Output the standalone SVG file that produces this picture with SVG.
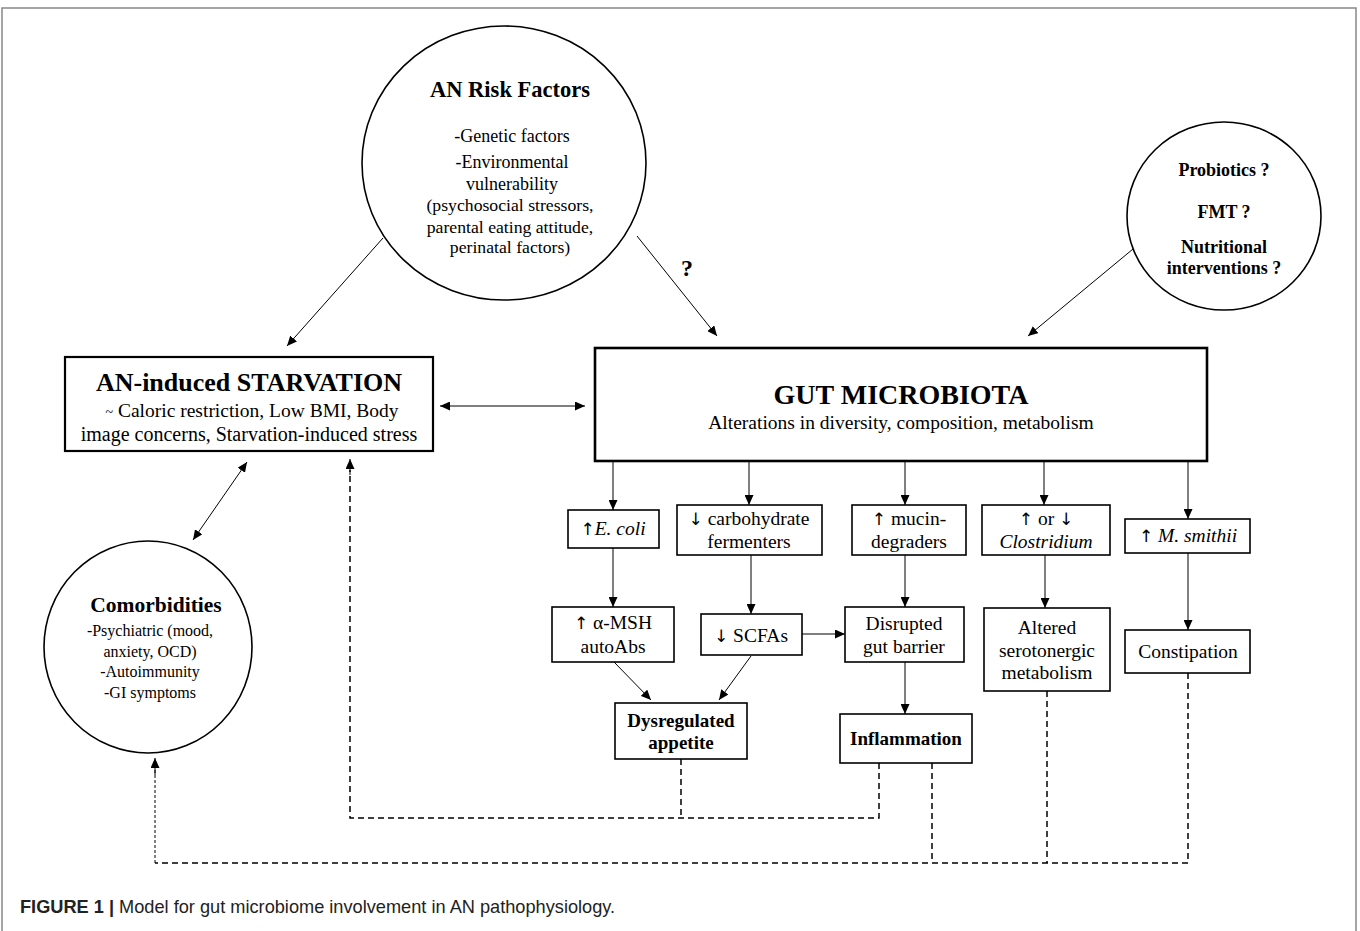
<svg xmlns="http://www.w3.org/2000/svg" width="1360" height="931" viewBox="0 0 1360 931">
<defs>
<marker id="ah" markerUnits="userSpaceOnUse" markerWidth="10" markerHeight="9" refX="10" refY="4.5" orient="auto-start-reverse">
<path d="M0,0 L10,4.5 L0,9 z" fill="#000"/>
</marker>
<style>
text{font-family:"Liberation Serif","Times New Roman",serif;fill:#000;text-anchor:middle}
.b{font-weight:bold}
.i{font-style:italic}
.a{font-family:"DejaVu Sans",sans-serif;font-size:17px}
.box{fill:#fff;stroke:#000;stroke-width:1.6}
.ell{fill:#fff;stroke:#000;stroke-width:1.6}
.ar{fill:none;stroke:#000;stroke-width:1;marker-end:url(#ah)}
.dash{fill:none;stroke:#000;stroke-width:1.5;stroke-dasharray:6,4}
.fine{fill:none;stroke:#000;stroke-width:1;stroke-dasharray:3,2}
.t19{font-size:19.5px}
.t17{font-size:17.7px}
</style>
</defs>
<rect width="1360" height="931" fill="#fff"/>
<path d="M2,931 L2,8 L1356,8 L1356,931" fill="none" stroke="#888" stroke-width="1.5"/>

<g id="connectors">
<line class="ar" x1="383" y1="238" x2="287" y2="346"/>
<line class="ar" x1="637" y1="236" x2="717" y2="336"/>
<line class="ar" x1="1133" y1="249" x2="1028" y2="336"/>
<line class="ar" x1="440" y1="406" x2="585" y2="406" style="marker-start:url(#ah)"/>
<line class="ar" x1="247" y1="462" x2="193" y2="540" style="marker-start:url(#ah)"/>
<line class="ar" x1="613" y1="462" x2="613" y2="510"/>
<line class="ar" x1="749" y1="462" x2="749" y2="505"/>
<line class="ar" x1="905" y1="462" x2="905" y2="505"/>
<line class="ar" x1="1044" y1="462" x2="1044" y2="505"/>
<line class="ar" x1="1188" y1="462" x2="1188" y2="519"/>
<line class="ar" x1="613" y1="548" x2="613" y2="607"/>
<line class="ar" x1="751" y1="555" x2="751" y2="614"/>
<line class="ar" x1="905" y1="555" x2="905" y2="607"/>
<line class="ar" x1="1045" y1="555" x2="1045" y2="608"/>
<line class="ar" x1="1188" y1="553" x2="1188" y2="630"/>
<line class="ar" x1="802" y1="634" x2="845" y2="634"/>
<line class="ar" x1="614" y1="662" x2="651" y2="700"/>
<line class="ar" x1="751" y1="656" x2="719" y2="700"/>
<line class="ar" x1="905" y1="662" x2="905" y2="714"/>
<path class="dash" d="M681,759 L681,818 M879,763 L879,818 L350,818 L350,470"/>
<line class="ar" x1="350" y1="475" x2="350" y2="459"/>
<path class="dash" d="M932,763 L932,863 M1047,691 L1047,863 M1188,673 L1188,863 L155,863"/>
<line class="fine" x1="155" y1="863" x2="155" y2="770"/>
<line class="ar" x1="155" y1="775" x2="155" y2="758"/>
</g>

<g id="risk-factors">
<ellipse class="ell" cx="504" cy="163" rx="142" ry="137"/>
<text class="b" x="510" y="97" font-size="22.5">AN Risk Factors</text>
<text x="512" y="142" font-size="18">-Genetic factors</text>
<text x="512" y="168" font-size="18">-Environmental</text>
<text x="512" y="190" font-size="18">vulnerability</text>
<text class="t17" x="510" y="211">(psychosocial stressors,</text>
<text class="t17" x="510" y="233">parental eating attitude,</text>
<text class="t17" x="510" y="253">perinatal factors)</text>
<text class="b" x="687" y="276" font-size="24">?</text>
</g>

<g id="interventions">
<ellipse class="ell" cx="1224" cy="216" rx="97" ry="94"/>
<text class="b" x="1224" y="176" font-size="18">Probiotics ?</text>
<text class="b" x="1224" y="218" font-size="18">FMT ?</text>
<text class="b" x="1224" y="253" font-size="18">Nutritional</text>
<text class="b" x="1224" y="274" font-size="18">interventions ?</text>
</g>

<g id="starvation">
<rect class="box" x="65" y="357" width="368" height="94" style="stroke-width:2.2"/>
<text class="b" x="249" y="391" font-size="26">AN-induced STARVATION</text>
<text x="252" y="417" font-size="19.5"><tspan font-size="14">~</tspan> Caloric restriction, Low BMI, Body</text>
<text x="249" y="441" font-size="20">image concerns, Starvation-induced stress</text>
</g>

<g id="gut-microbiota">
<rect class="box" x="595" y="348" width="612" height="113" style="stroke-width:2.6"/>
<text class="b" x="901" y="404" font-size="28">GUT MICROBIOTA</text>
<text x="901" y="429" font-size="19.5">Alterations in diversity, composition, metabolism</text>
</g>

<g id="comorbidities">
<ellipse class="ell" cx="148" cy="647" rx="104" ry="106"/>
<text class="b" x="156" y="612" font-size="21.5">Comorbidities</text>
<text x="150" y="636" font-size="16">-Psychiatric (mood,</text>
<text x="150" y="657" font-size="16">anxiety, OCD)</text>
<text x="150" y="677" font-size="16">-Autoimmunity</text>
<text x="150" y="698" font-size="16">-GI symptoms</text>
</g>

<g id="ecoli">
<rect class="box" x="568" y="510" width="91" height="38"/>
<text class="t19" x="613" y="535"><tspan class="a">↑</tspan><tspan class="i">E. coli</tspan></text>
</g>
<g id="carb">
<rect class="box" x="677" y="505" width="145" height="50"/>
<text class="t19" x="749" y="525"><tspan class="a">↓</tspan> carbohydrate</text>
<text class="t19" x="749" y="548">fermenters</text>
</g>
<g id="mucin">
<rect class="box" x="852" y="505" width="114" height="50"/>
<text class="t19" x="909" y="525"><tspan class="a">↑</tspan> mucin-</text>
<text class="t19" x="909" y="548">degraders</text>
</g>
<g id="clostridium">
<rect class="box" x="982" y="505" width="128" height="50"/>
<text class="t19" x="1046" y="525"><tspan class="a">↑</tspan> or <tspan class="a">↓</tspan></text>
<text class="t19 i" x="1046" y="548">Clostridium</text>
</g>
<g id="msmithii">
<rect class="box" x="1125" y="519" width="125" height="34"/>
<text class="t19" x="1188" y="542"><tspan class="a">↑</tspan> <tspan class="i">M. smithii</tspan></text>
</g>
<g id="msh">
<rect class="box" x="552" y="607" width="122" height="55"/>
<text class="t19" x="613" y="629"><tspan class="a">↑</tspan> α-MSH</text>
<text class="t19" x="613" y="653">autoAbs</text>
</g>
<g id="scfa">
<rect class="box" x="701" y="614" width="101" height="41"/>
<text class="t19" x="751" y="642"><tspan class="a">↓</tspan> SCFAs</text>
</g>
<g id="barrier">
<rect class="box" x="845" y="607" width="119" height="55"/>
<text class="t19" x="904" y="630">Disrupted</text>
<text class="t19" x="904" y="653">gut barrier</text>
</g>
<g id="serotonergic">
<rect class="box" x="984" y="608" width="126" height="83"/>
<text class="t19" x="1047" y="634">Altered</text>
<text class="t19" x="1047" y="657">serotonergic</text>
<text class="t19" x="1047" y="679">metabolism</text>
</g>
<g id="constipation">
<rect class="box" x="1125" y="630" width="125" height="43"/>
<text class="t19" x="1188" y="658">Constipation</text>
</g>
<g id="appetite">
<rect class="box" x="615" y="703" width="132" height="56"/>
<text class="b" x="681" y="727" font-size="19">Dysregulated</text>
<text class="b" x="681" y="749" font-size="19">appetite</text>
</g>
<g id="inflammation">
<rect class="box" x="840" y="714" width="132" height="49"/>
<text class="b" x="906" y="745" font-size="19">Inflammation</text>
</g>

<text x="20" y="913" font-size="18.2" style="font-family:'Liberation Sans',Arial,sans-serif;text-anchor:start;fill:#222"><tspan font-weight="bold">FIGURE 1 |</tspan> Model for gut microbiome involvement in AN pathophysiology.</text>
</svg>
